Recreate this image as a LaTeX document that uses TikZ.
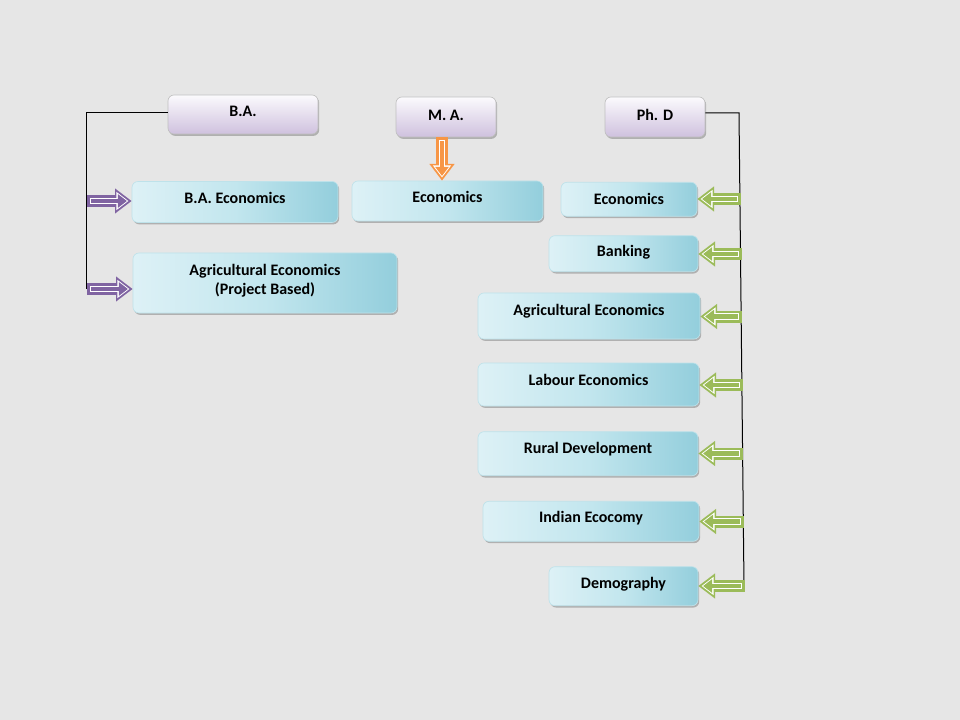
\documentclass[tikz,border=0pt]{standalone}
\usepackage{fontspec}
\setmainfont{Carlito}
\usetikzlibrary{arrows.meta,shadows,calc}
\definecolor{bg}{HTML}{E6E6E6}
\definecolor{bluedark}{HTML}{93CEDC}
\definecolor{bluelight}{HTML}{DDF1F6}
\definecolor{bluemid}{HTML}{C2E6EE}
\definecolor{lavbot}{HTML}{CFC1DE}
\definecolor{lavtop}{HTML}{FBFAFD}
\definecolor{arrpurple}{HTML}{8064A2}
\definecolor{arrgreen}{HTML}{9BBB59}
\definecolor{arrorange}{HTML}{F79646}
\tikzset{
  every node/.style={font=\bfseries\fontsize{12pt}{14pt}\selectfont, text=black},
  basebox/.style={rounded corners=4.5pt, inner sep=2pt, align=center,
    text height=8.4pt, text depth=5.4pt,
    drop shadow={shadow xshift=0.9pt, shadow yshift=-1.4pt, fill=black!45, opacity=0.6}},
  topbox/.style={basebox, draw=black!25, line width=0.5pt, top color=lavtop, bottom color=lavbot},
  bluebox/.style={basebox, draw=bluedark!60, line width=0.5pt, left color=bluelight, right color=bluedark, middle color=bluemid},
  raise/.style={text depth=#1},
  wire/.style={draw=black, line width=0.75pt},
}
\newcommand\blockarrow[3]{%
  \draw[#1, line width=9pt, -{Triangle[length=12.5pt,width=18pt]}] (#2) -- (#3);
  \draw[white, line width=5.2pt, shorten <=2pt, shorten >=2.4pt, -{Triangle[length=9pt,width=13pt]}] (#2) -- (#3);
  \draw[#1, line width=3.7pt, shorten <=2.8pt, shorten >=3.6pt, -{Triangle[length=6.8pt,width=10pt]}] (#2) -- (#3);
}
\begin{document}
\begin{tikzpicture}[x=0.75pt, y=-0.75pt]
\fill[bg] (0,0) rectangle (960,720);
\useasboundingbox (0,0) rectangle (960,720);

% top headers
\node[topbox, raise=5pt, minimum width=150*0.75pt, minimum height=39*0.75pt] (ba) at (243,114.5) {B.A.};
\node[topbox, raise=3pt, minimum width=100*0.75pt, minimum height=40*0.75pt] (ma) at (446,117) {M. A.};
\node[topbox, raise=3.8pt, minimum width=100*0.75pt, minimum height=40*0.75pt] (phd) at (655,117) {Ph. D};

% B.A. column
\node[bluebox, raise=6pt, minimum width=206*0.75pt, minimum height=41*0.75pt] (baeco) at (235,202) {B.A. Economics};
\node[bluebox, text height=, text depth=, minimum width=264*0.75pt, minimum height=60*0.75pt] (baagri) at (265,283) {Agricultural Economics\\(Project Based)\rule[-5.8pt]{0pt}{1pt}};

% M.A. column
\node[bluebox, minimum width=191*0.75pt, minimum height=40*0.75pt] (maeco) at (447.5,201) {Economics};

% Ph.D column
\node[bluebox, raise=0.8pt, minimum width=136*0.75pt, minimum height=34*0.75pt] (p1) at (629,199.3) {Economics};
\node[bluebox, raise=3.8pt, minimum width=149*0.75pt, minimum height=36*0.75pt] (p2) at (623.5,253.7) {Banking};
\node[bluebox, raise=8.7pt, minimum width=222*0.75pt, minimum height=46*0.75pt] (p3) at (589,316) {Agricultural Economics};
\node[bluebox, raise=6.5pt, minimum width=221*0.75pt, minimum height=43*0.75pt] (p4) at (588.5,384.5) {Labour Economics};
\node[bluebox, raise=8.9pt, minimum width=220*0.75pt, minimum height=44*0.75pt] (p5) at (588,453.7) {Rural Development};
\node[bluebox, raise=6.2pt, minimum width=216*0.75pt, minimum height=40*0.75pt] (p6) at (591,521.3) {Indian Ecocomy};
\node[bluebox, raise=5.2pt, minimum width=149*0.75pt, minimum height=39*0.75pt] (p7) at (623.5,586.2) {Demography};

% left bracket
\coordinate (lt) at (86,113);
\coordinate (lb) at (86,289);
\coordinate (la1) at (87,201);
\coordinate (la2) at (87,289);
\draw[wire] (ba.west |- lt) -- (lt) -- (lb);
\blockarrow{arrpurple}{la1}{baeco.west |- la1}
\blockarrow{arrpurple}{la2}{baagri.west |- la2}

% right bracket
\coordinate (rt) at (739,113);
\coordinate (rb) at (744,586);
\draw[wire] (phd.east |- rt) -- (rt) -- (rb);
\coordinate (r1) at (741,199);
\coordinate (r2) at (741.5,254);
\coordinate (r3) at (742,316.5);
\coordinate (r4) at (742.5,385);
\coordinate (r5) at (743,453.5);
\coordinate (r6) at (743.5,521.5);
\coordinate (r7) at (744.5,586);
\blockarrow{arrgreen}{r1}{p1.east |- r1}
\blockarrow{arrgreen}{r2}{p2.east |- r2}
\blockarrow{arrgreen}{r3}{p3.east |- r3}
\blockarrow{arrgreen}{r4}{p4.east |- r4}
\blockarrow{arrgreen}{r5}{p5.east |- r5}
\blockarrow{arrgreen}{r6}{p6.east |- r6}
\blockarrow{arrgreen}{r7}{p7.east |- r7}

% M.A. arrow
\coordinate (maS) at ($(ma.south)+(-4,0)$);
\coordinate (maE) at (maS |- maeco.north);
\blockarrow{arrorange}{maS}{maE}
\end{tikzpicture}
\end{document}
